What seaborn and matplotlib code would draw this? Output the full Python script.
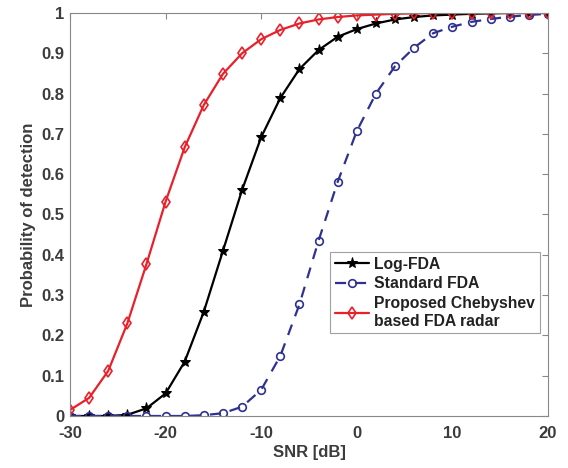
import matplotlib
matplotlib.use("Agg")
import matplotlib.pyplot as plt
import seaborn as sns
import pandas as pd

# ---data---
snr_db = [-30, -28, -26, -24, -22, -20, -18, -16, -14, -12, -10, -8, -6,
          -4, -2, 0, 2, 4, 6, 8, 10, 12, 14, 16, 18, 20]
pd_log_fda = [0.0, 0.0, 0.0, 0.003, 0.019, 0.056, 0.135, 0.259, 0.41, 0.561,
              0.692, 0.789, 0.861, 0.908, 0.941, 0.960, 0.974, 0.984, 0.990,
              0.994, 0.996, 0.998, 0.999, 1.0, 1.0, 1.0]
pd_standard_fda = [0.0, 0.0, 0.0, 0.0, 0.0, 0.0, 0.0, 0.002, 0.007, 0.023,
                   0.065, 0.149, 0.277, 0.435, 0.581, 0.707, 0.80, 0.868,
                   0.914, 0.95, 0.966, 0.978, 0.985, 0.991, 0.995, 0.998]
pd_chebyshev = [0.015, 0.045, 0.112, 0.23, 0.377, 0.532, 0.667, 0.772, 0.849,
                0.90, 0.935, 0.958, 0.974, 0.984, 0.990, 0.994, 0.996, 0.998,
                0.999, 1.0, 1.0, 1.0, 1.0, 1.0, 1.0, 1.0]

x_ticks = [-30, -20, -10, 0, 10, 20]
y_ticks = [0, 0.1, 0.2, 0.3, 0.4, 0.5, 0.6, 0.7, 0.8, 0.9, 1]
y_ticklabels = ["0", "0.1", "0.2", "0.3", "0.4", "0.5", "0.6", "0.7", "0.8", "0.9", "1"]

df = pd.DataFrame({"snr": snr_db, "log": pd_log_fda,
                   "std": pd_standard_fda, "cheb": pd_chebyshev})

sns.set_style("white")
plt.rcParams["font.family"] = ["Liberation Sans", "DejaVu Sans"]
plt.rcParams["font.weight"] = "bold"
plt.rcParams["axes.unicode_minus"] = False

fig = plt.figure(figsize=(5.68, 4.68), dpi=100)
ax = fig.add_axes([70/568, 52/468, 478/568, 403/468])

text_col = "#3c3c3c"

sns.lineplot(x="snr", y="log", data=df, ax=ax, color="black", lw=1.6,
             marker="*", markersize=8, markeredgecolor="black",
             label="Log-FDA")
sns.lineplot(x="snr", y="std", data=df, ax=ax, color="#2e3192", lw=1.6,
             dashes=False, marker="o", markersize=5.5, markerfacecolor="none",
             markeredgecolor="#2e3192", markeredgewidth=1.2,
             label="Standard FDA")
ax.lines[-1].set_linestyle((0, (5, 4)))
sns.lineplot(x="snr", y="cheb", data=df, ax=ax, color="#e8202a", lw=1.6,
             marker="d", markersize=6.5, markerfacecolor="none",
             markeredgecolor="#e8202a", markeredgewidth=1.2,
             label="Proposed Chebyshev\nbased FDA radar")

ax.set_xlim(-30, 20)
ax.set_ylim(0, 1)
ax.set_xticks(x_ticks)
ax.set_yticks(y_ticks)
ax.set_yticklabels(y_ticklabels)
ax.tick_params(direction="in", top=True, right=True, length=4,
               colors="#888888", labelcolor=text_col, labelsize=12, width=0.8)
ax.tick_params(axis="x", pad=7)
ax.tick_params(axis="y", pad=4)
for lab in ax.get_xticklabels() + ax.get_yticklabels():
    lab.set_fontweight("bold")
for sp in ax.spines.values():
    sp.set_color("#888888")
    sp.set_linewidth(0.8)

ax.set_xlabel("SNR [dB]", fontsize=12, fontweight="bold", color=text_col,
              labelpad=3)
ax.set_ylabel("Probability of detection", fontsize=12, fontweight="bold",
              color=text_col)

leg = ax.legend(loc="upper left", bbox_to_anchor=(0.544, 0.407),
                fontsize=11.3, frameon=True, fancybox=False,
                handlelength=2.2, handletextpad=0.3, borderpad=0.3,
                labelspacing=0.3, borderaxespad=0)
leg.get_frame().set_edgecolor("#888888")
leg.get_frame().set_linewidth(0.8)
for t in leg.get_texts():
    t.set_fontweight("bold")
    t.set_color("#222222")

fig.savefig("out.png", dpi=100)
